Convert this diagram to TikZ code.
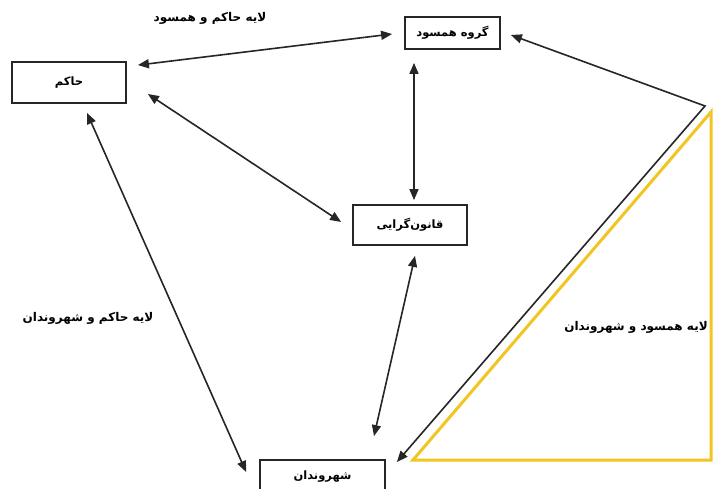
\documentclass[tikz,border=0pt]{standalone}
\usepackage{fontspec}
\newfontfamily\arabicfont[Script=Arabic]{DejaVu Sans}
\TeXXeTstate=1
\usetikzlibrary{arrows.meta,calc}
\definecolor{lin}{HTML}{262626}
\definecolor{gold}{HTML}{F2C522}
\tikzset{
  box/.style={draw=lin, line width=1.8pt, fill=white, inner sep=0pt, font=\arabicfont\bfseries\fontsize{11.5}{13}\selectfont},
  conn/.style={draw=lin, line width=1.6pt, {Triangle[length=11pt,width=9pt]}-{Triangle[length=11pt,width=9pt]}},
  lbl/.style={font=\arabicfont\bfseries\fontsize{12}{14}\selectfont, inner sep=0pt}
}
\begin{document}
\begin{tikzpicture}[x=1pt,y=-1pt]
\useasboundingbox[fill=white] (0,0) rectangle (713,489);
% yellow triangle
\coordinate (ya) at (413,460);
\coordinate (yb) at (711,460);
\coordinate (yc) at (711,112);
\draw[gold, line width=3pt, line join=miter] (ya) -- (yb) -- (yc) -- cycle;
% boxes
\node[box, minimum width=114pt, minimum height=41pt] (h) at (69,82.5) {\beginR حاکم\endR};
\node[box, minimum width=95pt, minimum height=32pt] (g) at (452.5,33) {\beginR گروه همسود\endR};
\node[box, minimum width=114pt, minimum height=40pt] (q) at (410,225) {\beginR قانون‌گرایی\endR};
\node[box, minimum width=125pt, minimum height=34pt] (s) at (322.5,477) {\beginR شهروندان\endR};
% labels
\node[lbl] (l1) at (210,18) {\beginR لایه حاکم و همسود\endR};
\node[lbl] (l2) at (88,318) {\beginR لایه حاکم و شهروندان\endR};
\node[lbl] (l3) at (636,327) {\beginR لایه همسود و شهروندان\endR};
% connectors
\draw[conn] ($(h.north east)+(11,4)$) -- ($(g.west)+(-12,1)$);
\draw[conn] ($(h.east)+(21,11.5)$) -- ($(q.west)+(-11,-3)$);
\draw[conn] ($(g.south)+(-38.5,13)$) -- ($(q.north)+(4,-4)$);
\draw[conn] ($(q.south)+(5,10)$) -- ($(s.north)+(51.5,-23)$);
\draw[conn] ($(h.south)+(18,9)$) -- ($(s.west)+(-13,-5)$);
\coordinate (corner) at (705,106);
\draw[conn, line join=miter] ($(g.east)+(10,2)$) -- (corner) -- ($(s.east)+(11,-15)$);
\end{tikzpicture}
\end{document}
